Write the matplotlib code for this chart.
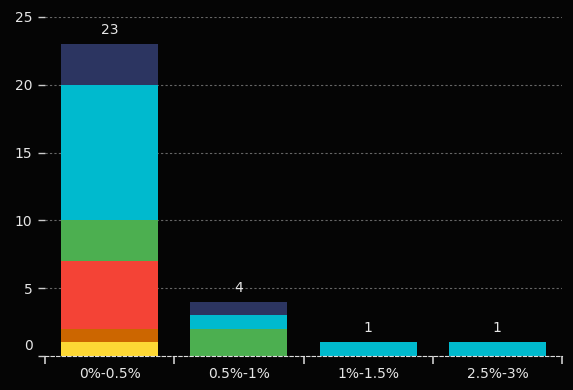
import numpy as np
import matplotlib.pyplot as plt
import matplotlib.transforms as mtransforms

# categories and stacked series values (bottom to top)
categories = ["0%-0.5%", "0.5%-1%", "1%-1.5%", "2.5%-3%"]
s_yellow = [1, 0, 0, 0]
s_orange = [1, 0, 0, 0]
s_red = [5, 0, 0, 0]
s_green = [3, 2, 0, 0]
s_cyan = [10, 1, 1, 1]
s_navy = [3, 1, 0, 0]

series = [s_yellow, s_orange, s_red, s_green, s_cyan, s_navy]
colors = ["#FDD835", "#CC6600", "#F44336", "#4CAF50", "#00BACE", "#2C3561"]

bg = "#050505"
txt = "#E6E6E6"

fig = plt.figure(figsize=(5.73, 3.90), dpi=100, facecolor=bg)
ax = fig.add_axes([45 / 573, 34 / 390, 517 / 573, 339 / 390], facecolor=bg)

x = np.arange(len(categories))
bottom = np.zeros(len(categories))
for vals, c in zip(series, colors):
    ax.bar(x, vals, bottom=bottom, width=0.75, color=c, zorder=3)
    bottom += np.array(vals)

# totals above bars
for xi, tot in zip(x, bottom):
    ax.annotate(str(int(tot)), (xi, tot), xytext=(0, 5), textcoords="offset points",
                ha="center", va="bottom", color=txt, fontsize=10)

ax.set_xlim(-0.5, len(categories) - 0.5)
ax.set_ylim(0, 25)
ax.set_yticks([0, 5, 10, 15, 20, 25])
ax.yaxis.grid(True, color="#666666", linestyle=(0, (2, 2)), linewidth=0.8, zorder=0)

# x ticks at category boundaries, labels in the middle
ax.set_xticks(np.arange(len(categories) + 1) - 0.5)
ax.set_xticklabels([])
ax.set_xticks(x, minor=True)
ax.set_xticklabels(categories, minor=True)
ax.tick_params(axis="x", which="major", colors="#CCCCCC", length=6, width=1.2)
ax.tick_params(axis="x", which="minor", length=0, pad=8, labelcolor=txt, labelsize=10)
ax.tick_params(axis="y", colors="#CCCCCC", length=5, width=1, labelcolor=txt, labelsize=10, pad=4)

for side in ["top", "right", "left"]:
    ax.spines[side].set_visible(False)
ax.spines["bottom"].set_color("#DDDDDD")
ax.spines["bottom"].set_linestyle((0, (3, 2)))
ax.spines["bottom"].set_zorder(4)

# lift the "0" label so it clears the axis line
fig.canvas.draw()
lab0 = ax.get_yticklabels()[0]
lab0.set_transform(lab0.get_transform() + mtransforms.ScaledTranslation(0, 11 / 100, fig.dpi_scale_trans))

fig.savefig("out.png", dpi=100, facecolor=bg)
